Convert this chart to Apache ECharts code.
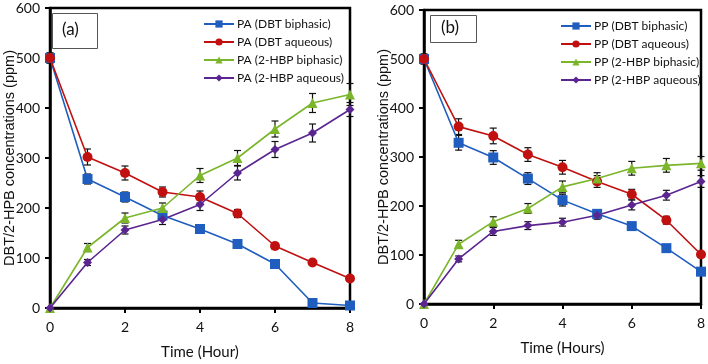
<!DOCTYPE html>
<html>
<head>
<meta charset="utf-8">
<script src="https://cdn.jsdelivr.net/npm/echarts@6/dist/echarts.min.js"></script>
<style>
  html, body { margin: 0; padding: 0; background: #fff; }
  #chartBox { width: 708px; height: 364px; }
</style>
</head>
<body>
<div id="chartBox"></div>
<script>
// time points (hours)
const hours = [0, 1, 2, 3, 4, 5, 6, 7, 8]

// panel (a) - PA
const paDbtBiphasic = [500, 258, 222, 185, 158, 128, 88, 10, 5]
const paDbtAqueous = [500, 302, 270, 232, 222, 189, 124, 91, 59]
const paHbpBiphasic = [0, 121, 180, 200, 265, 300, 358, 410, 427]
const paHbpAqueous = [0, 91, 156, 177, 207, 270, 317, 350, 397]
const paDbtBiphasicErr = [10, 10, 10, 8, 5, 5, 5, 5, 5]
const paDbtAqueousErr = [10, 16, 14, 10, 12, 8, 6, 5, 5]
const paHbpBiphasicErr = [0, 8, 10, 10, 14, 15, 16, 19, 22]
const paHbpAqueousErr = [0, 6, 8, 10, 12, 14, 16, 18, 14]

// panel (b) - PP
const ppDbtBiphasic = [500, 329, 299, 256, 212, 184, 159, 114, 66]
const ppDbtAqueous = [500, 362, 343, 305, 279, 250, 224, 171, 101]
const ppHbpBiphasic = [0, 122, 168, 195, 239, 256, 277, 283, 287]
const ppHbpAqueous = [0, 92, 148, 160, 167, 181, 202, 222, 250]
const ppDbtBiphasicErr = [10, 15, 14, 12, 12, 8, 6, 6, 6]
const ppDbtAqueousErr = [10, 16, 16, 14, 14, 12, 10, 8, 6]
const ppHbpBiphasicErr = [0, 8, 10, 10, 12, 12, 14, 14, 14]
const ppHbpAqueousErr = [0, 6, 8, 8, 8, 8, 10, 10, 12]

const yTicks = [0, 100, 200, 300, 400, 500, 600]
const xTicks = [0, 2, 4, 6, 8]

const colors = ['#1f5dbf', '#c01010', '#7ab52a', '#5b2590']
const symbols = ['rect', 'circle', 'triangle', 'diamond']
const symbolSizes = [10, 10, 10, 9]

const chart = echarts.init(document.getElementById('chartBox'))

function pairs(vals) {
  return hours.map((h, i) => [h, vals[i]])
}

function lineSeries(name, vals, k, idx) {
  return {
    name: name,
    type: 'line',
    xAxisIndex: idx,
    yAxisIndex: idx,
    data: pairs(vals),
    symbol: symbols[k],
    symbolSize: symbolSizes[k],
    color: colors[k],
    lineStyle: { width: 1.6, color: colors[k] },
    itemStyle: { color: colors[k] },
    z: 3,
    animation: false
  }
}

function errSeries(vals, errs, idx) {
  return {
    type: 'custom',
    xAxisIndex: idx,
    yAxisIndex: idx,
    data: hours.map((h, i) => [h, vals[i] - errs[i], vals[i] + errs[i]]),
    z: 2,
    silent: true,
    animation: false,
    renderItem: function(params, api) {
      const lo = api.coord([api.value(0), api.value(1)])
      const hi = api.coord([api.value(0), api.value(2)])
      const w = 3.5
      const st = { stroke: '#111', lineWidth: 1.2 }
      return {
        type: 'group',
        children: [
          { type: 'line', shape: { x1: lo[0], y1: lo[1], x2: hi[0], y2: hi[1] }, style: st },
          { type: 'line', shape: { x1: lo[0] - w, y1: lo[1], x2: lo[0] + w, y2: lo[1] }, style: st },
          { type: 'line', shape: { x1: hi[0] - w, y1: hi[1], x2: hi[0] + w, y2: hi[1] }, style: st }
        ]
      }
    }
  }
}

const tickFont = { color: '#111', fontSize: 14, fontFamily: 'Lato' }

function xAxis(idx, name) {
  return {
    type: 'value', gridIndex: idx, min: 0, max: 8, interval: 2,
    name: name, nameLocation: 'middle', nameGap: 37, nameMoveOverlap: false,
    nameTextStyle: { color: '#111', fontSize: 15, fontFamily: 'Lato' },
    axisLine: { show: true, lineStyle: { color: '#000', width: 2.5 } },
    axisTick: { show: true, inside: false, length: 5, lineStyle: { color: '#000', width: 2 } },
    axisLabel: Object.assign({ margin: 12, formatter: v => xTicks.includes(v) ? String(v) : '' }, tickFont),
    splitLine: { show: false }
  }
}

function yAxis(idx) {
  return {
    type: 'value', gridIndex: idx, min: 0, max: 600, interval: 100,
    name: 'DBT/2-HPB concentrations (ppm)', nameLocation: 'middle', nameGap: 33, nameMoveOverlap: false,
    nameTextStyle: { color: '#111', fontSize: 14.5, fontFamily: 'Liberation Sans' },
    axisLine: { show: true, lineStyle: { color: '#000', width: 2.5 } },
    axisTick: { show: true, inside: false, length: 5, lineStyle: { color: '#000', width: 2 } },
    axisLabel: Object.assign({ margin: 10, formatter: v => yTicks.includes(v) ? String(v) : '' }, tickFont),
    splitLine: { show: false }
  }
}

function legend(names, left, top) {
  return {
    data: names,
    orient: 'vertical',
    left: left,
    top: top,
    itemWidth: 30,
    itemHeight: 9,
    itemGap: 6,
    textStyle: { color: '#111', fontSize: 12, fontFamily: 'Lato', padding: [0, 0, 0, -2] },
    selectedMode: false
  }
}

const paNames = ['PA (DBT biphasic)', 'PA (DBT aqueous)', 'PA (2-HBP biphasic)', 'PA (2-HBP aqueous)']
const ppNames = ['PP (DBT biphasic)', 'PP (DBT aqueous)', 'PP (2-HBP biphasic)', 'PP (2-HBP aqueous)']

chart.setOption({
  animation: false,
  grid: [
    { left: 50, top: 8, width: 300, height: 300, show: true, borderColor: '#000', borderWidth: 2.5, backgroundColor: 'transparent', outerBoundsMode: 'none' },
    { left: 424, top: 10, width: 277, height: 294, show: true, borderColor: '#000', borderWidth: 2.5, backgroundColor: 'transparent', outerBoundsMode: 'none' }
  ],
  legend: [legend(paNames, 198, 13), legend(ppNames, 555, 15)],
  xAxis: [xAxis(0, 'Time (Hour)'), xAxis(1, 'Time (Hours)')],
  yAxis: [yAxis(0), yAxis(1)],
  graphic: [
    { type: 'rect', left: 52, top: 13, shape: { width: 45, height: 35 }, style: { fill: '#fff', stroke: '#555', lineWidth: 1 }, z: 10 },
    { type: 'text', left: 62, top: 21, style: { text: '(a)', fontSize: 17, fontFamily: 'Lato', fill: '#111' }, z: 11 },
    { type: 'rect', left: 430, top: 15, shape: { width: 46, height: 27 }, style: { fill: '#fff', stroke: '#555', lineWidth: 1 }, z: 10 },
    { type: 'text', left: 441, top: 19, style: { text: '(b)', fontSize: 17, fontFamily: 'Lato', fill: '#111' }, z: 11 }
  ],
  series: [
    errSeries(paDbtBiphasic, paDbtBiphasicErr, 0),
    errSeries(paDbtAqueous, paDbtAqueousErr, 0),
    errSeries(paHbpBiphasic, paHbpBiphasicErr, 0),
    errSeries(paHbpAqueous, paHbpAqueousErr, 0),
    lineSeries(paNames[0], paDbtBiphasic, 0, 0),
    lineSeries(paNames[1], paDbtAqueous, 1, 0),
    lineSeries(paNames[2], paHbpBiphasic, 2, 0),
    lineSeries(paNames[3], paHbpAqueous, 3, 0),
    errSeries(ppDbtBiphasic, ppDbtBiphasicErr, 1),
    errSeries(ppDbtAqueous, ppDbtAqueousErr, 1),
    errSeries(ppHbpBiphasic, ppHbpBiphasicErr, 1),
    errSeries(ppHbpAqueous, ppHbpAqueousErr, 1),
    lineSeries(ppNames[0], ppDbtBiphasic, 0, 1),
    lineSeries(ppNames[1], ppDbtAqueous, 1, 1),
    lineSeries(ppNames[2], ppHbpBiphasic, 2, 1),
    lineSeries(ppNames[3], ppHbpAqueous, 3, 1)
  ]
})

window.addEventListener('resize', () => {
  chart.resize()
})
</script>
</body>
</html>
